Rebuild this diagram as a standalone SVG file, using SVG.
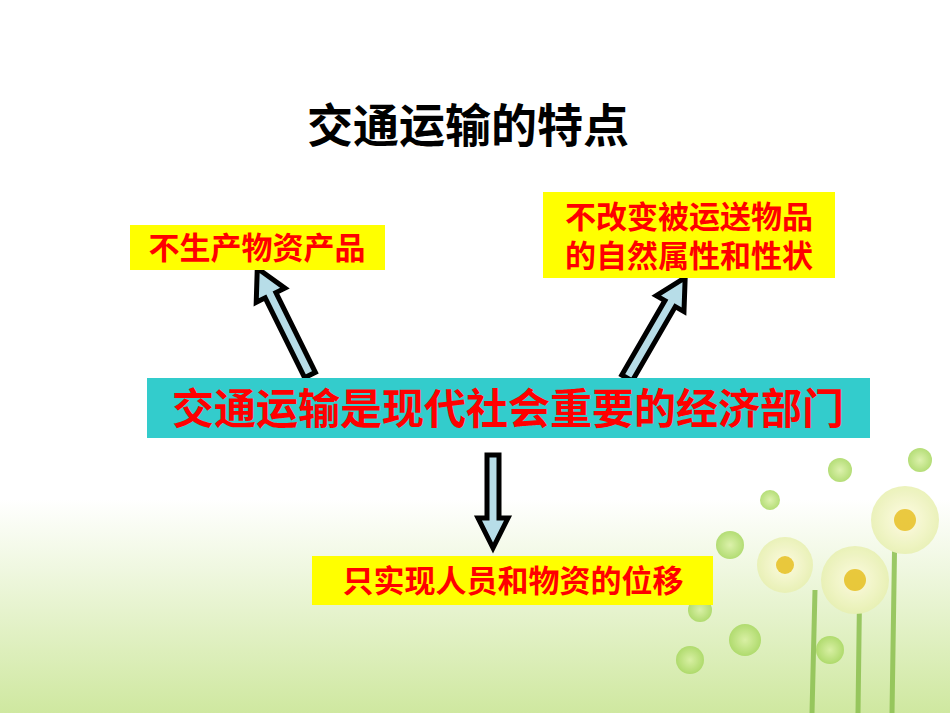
<svg xmlns="http://www.w3.org/2000/svg" width="950" height="713" viewBox="0 0 950 713">
<style>
text{font-family:"Liberation Sans","Noto Sans CJK SC",sans-serif;font-weight:bold;text-anchor:middle}
.lbl{fill:#FF0000;font-size:31px}
.box{fill:#FFFF00}
.arr{fill:#B7DDE8;stroke:#000;stroke-width:5;stroke-linejoin:miter}
</style>
<defs>
<linearGradient id="bg" x1="0" y1="0" x2="0" y2="1">
<stop offset="0" stop-color="#fff"/><stop offset="0.7" stop-color="#fff"/><stop offset="1" stop-color="#cfe8a0"/>
</linearGradient>
<radialGradient id="pet" cx="0.5" cy="0.5" r="0.5"><stop offset="0" stop-color="#fffbe0"/><stop offset="1" stop-color="#e8f0b0"/></radialGradient>
<radialGradient id="leaf" cx="0.5" cy="0.5" r="0.5"><stop offset="0" stop-color="#d8f0a0"/><stop offset="1" stop-color="#a8d860"/></radialGradient>
</defs>
<rect width="950" height="713" fill="url(#bg)"/>
<g id="scene" opacity="0.85">
<path d="M860 560 L858 713 M895 520 L892 713 M815 590 L812 713" stroke="#8cc050" stroke-width="5" fill="none"/>
<circle cx="730" cy="545" r="14" fill="url(#leaf)"/><circle cx="700" cy="610" r="12" fill="url(#leaf)"/>
<circle cx="770" cy="500" r="10" fill="url(#leaf)"/><circle cx="840" cy="470" r="12" fill="url(#leaf)"/>
<circle cx="745" cy="640" r="16" fill="url(#leaf)"/><circle cx="690" cy="660" r="14" fill="url(#leaf)"/>
<circle cx="920" cy="460" r="12" fill="url(#leaf)"/><circle cx="830" cy="650" r="14" fill="url(#leaf)"/>
<circle cx="785" cy="565" r="28" fill="url(#pet)"/><circle cx="785" cy="565" r="9" fill="#e8c020"/>
<circle cx="855" cy="580" r="34" fill="url(#pet)"/><circle cx="855" cy="580" r="11" fill="#e8c020"/>
<circle cx="905" cy="520" r="34" fill="url(#pet)"/><circle cx="905" cy="520" r="11" fill="#e8c020"/>
</g>
<text id="title" x="468" y="142" style="font-size:46px;fill:#000">交通运输的特点</text>
<g id="connectors">
<polygon class="arr" transform="translate(310,375) rotate(-26.3)" points="-6,0 -6,-89 -16,-89 0,-119 16,-89 6,-89 6,0"/>
<polygon class="arr" transform="translate(627,378) rotate(30.1)" points="-6,0 -6,-86 -16,-86 0,-116 16,-86 6,-86 6,0"/>
<polygon class="arr" points="487,455 499,455 499,518 508,518 493,548 478,518 487,518"/>
</g>
<g id="n1"><rect class="box" x="130" y="225" width="255" height="45"/><text class="lbl" x="257" y="259">不生产物资产品</text></g>
<g id="n2"><rect class="box" x="543" y="192" width="292" height="86"/><text class="lbl" x="689" y="228">不改变被运送物品</text><text class="lbl" x="689" y="267">的自然属性和性状</text></g>
<g id="n3"><rect x="147" y="378" width="723" height="60" fill="#33CCCC"/><text class="lbl" x="508" y="424" style="font-size:42px">交通运输是现代社会重要的经济部门</text></g>
<g id="n4"><rect class="box" x="312" y="556" width="401" height="49"/><text class="lbl" x="513" y="592">只实现人员和物资的位移</text></g>
</svg>
